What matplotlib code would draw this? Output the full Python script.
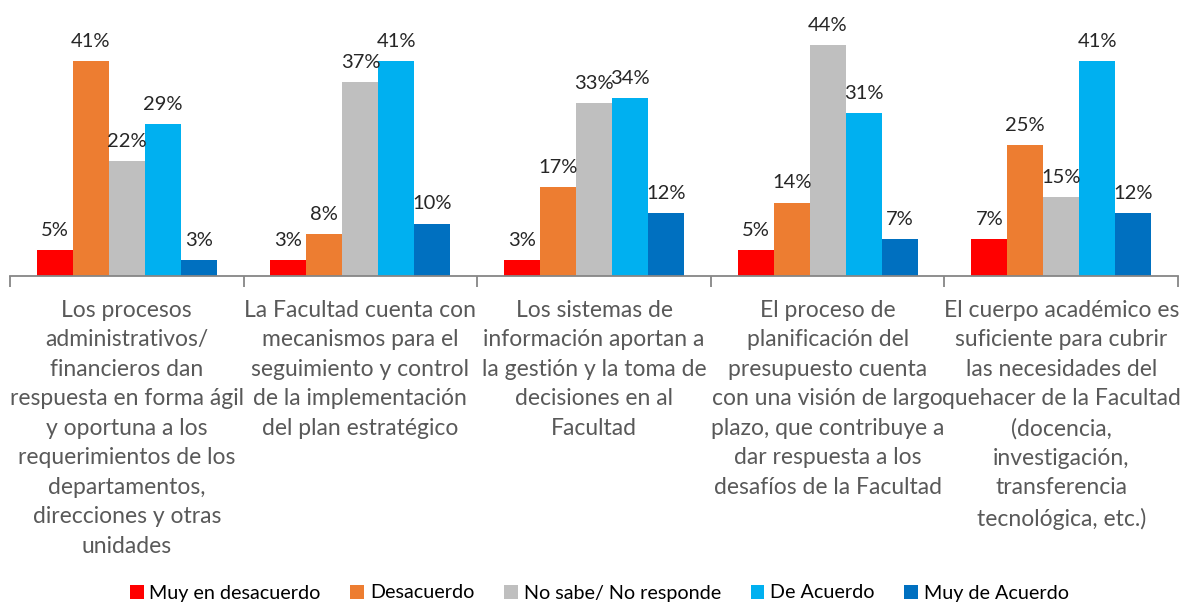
import numpy as np
import matplotlib.pyplot as plt

# --- data ---
categories = [
    "Los procesos\nadministrativos/\nfinancieros dan\nrespuesta en forma ágil\ny oportuna a los\nrequerimientos de los\ndepartamentos,\ndirecciones y otras\nunidades",
    "La Facultad cuenta con\nmecanismos para el\nseguimiento y control\nde la implementación\ndel plan estratégico",
    "Los sistemas de\ninformación aportan a\nla gestión y la toma de\ndecisiones en al\nFacultad",
    "El proceso de\nplanificación del\npresupuesto cuenta\ncon una visión de largo\nplazo, que contribuye a\ndar respuesta a los\ndesafíos de la Facultad",
    "El cuerpo académico es\nsuficiente para cubrir\nlas necesidades del\nquehacer de la Facultad\n(docencia,\ninvestigación,\ntransferencia\ntecnológica, etc.)",
]
series_names = ["Muy en desacuerdo", "Desacuerdo", "No sabe/ No responde",
                "De Acuerdo", "Muy de Acuerdo"]
muy_desacuerdo = [5, 3, 3, 5, 7]
desacuerdo = [41, 8, 17, 14, 25]
no_sabe = [22, 37, 33, 44, 15]
de_acuerdo = [29, 41, 34, 31, 41]
muy_acuerdo = [3, 10, 12, 7, 12]
values = [muy_desacuerdo, desacuerdo, no_sabe, de_acuerdo, muy_acuerdo]
colors = ["#FF0000", "#ED7D31", "#BFBFBF", "#00B0F0", "#0070C0"]

plt.rcParams['font.family'] = ['Lato', 'DejaVu Sans']

fig = plt.figure(figsize=(11.87, 6.05), dpi=100)
ax = fig.add_axes([10 / 1187, 1 - 276 / 605, 1168 / 1187, 270 / 605])

x = np.arange(len(categories))
width = 0.154
for i, (name, vals, col) in enumerate(zip(series_names, values, colors)):
    bars = ax.bar(x + (i - 2) * width, vals, width, color=col, label=name)
    ax.bar_label(bars, labels=[f"{v}%" for v in vals], padding=8,
                 fontsize=14.5, color="#262626")

ax.set_xlim(-0.5, len(categories) - 0.5)
ax.set_ylim(0, 51.5)
ax.set_yticks([])
for s in ["top", "right", "left"]:
    ax.spines[s].set_visible(False)
ax.spines["bottom"].set_color("#868686")
ax.spines["bottom"].set_linewidth(1.3)

# category names centred under each group, dividers as minor ticks
ax.set_xticks(x)
ax.set_xticklabels(categories, fontsize=16.5, color="#595959", linespacing=1.5,
                   va="top")
ax.tick_params(axis="x", which="major", length=0, pad=17)
ax.set_xticks(np.arange(-0.5, len(categories)), minor=True)
ax.tick_params(axis="x", which="minor", length=8, width=1.3, color="#868686")

fig.legend(loc="center", bbox_to_anchor=(0.505, 1 - 593 / 605), ncol=5,
           frameon=False, fontsize=14.2, handlelength=0.7, handleheight=0.7,
           handletextpad=0.3, columnspacing=1.5)

fig.savefig("out.png", dpi=100)
